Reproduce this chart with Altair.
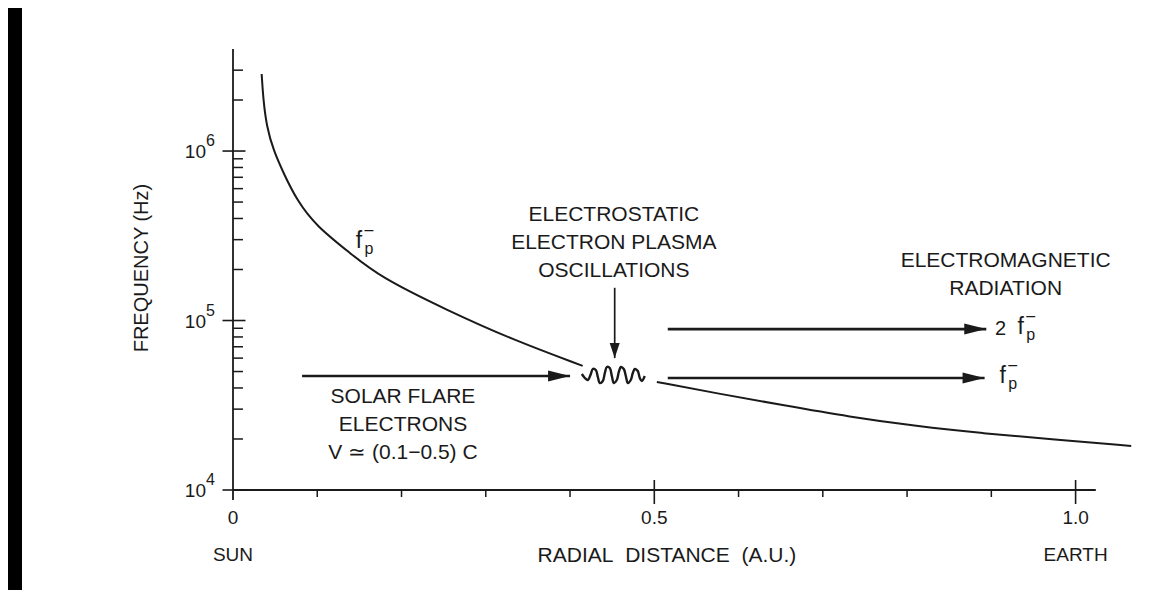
import altair as alt
import pandas as pd

FONT = "Liberation Sans"
INK = "#1a1a1a"

# ---------------- values ----------------
# plasma-frequency curve f_p^- : inner piece (Sun side) and outer piece (beyond the oscillations)
fp_inner_au = [0.034, 0.036, 0.040, 0.048, 0.060, 0.076, 0.099, 0.139, 0.174, 0.254, 0.332, 0.415]
fp_inner_hz = [2.85e6, 2.0e6, 1.39e6, 1.01e6, 7.4e5, 5.1e5, 3.6e5, 2.5e5, 1.81e5, 1.15e5, 7.7e4, 5.4e4]
fp_outer_au = [0.503, 0.574, 0.652, 0.732, 0.811, 0.890, 0.969, 1.066]
fp_outer_hz = [4.34e4, 3.72e4, 3.17e4, 2.70e4, 2.38e4, 2.16e4, 2.0e4, 1.82e4]

# the oscillation squiggle
wave_au = [0.4140, 0.4176, 0.4211, 0.4247, 0.4270, 0.4306, 0.4330, 0.4353, 0.4389,
           0.4413, 0.4437, 0.4472, 0.4496, 0.4520, 0.4555, 0.4579, 0.4603, 0.4638,
           0.4662, 0.4686, 0.4721, 0.4745, 0.4769, 0.4804, 0.4828, 0.4852, 0.4887]
wave_hz = [48350, 45800, 44570, 48350, 51750, 51050, 46420, 42790, 43970,
           49000, 53170, 52450, 47060, 42790, 44570, 49700, 53170, 51750,
           47060, 42790, 44570, 49000, 51750, 50370, 45800, 43970, 47060]

# horizontal arrows: solar-flare electrons, 2 f_p^- and f_p^- radiation
flow_start_au = [0.082, 0.516, 0.516]
flow_tip_au = [0.400, 0.894, 0.892]
flow_hz = [4.71e4, 8.9e4, 4.58e4]
# vertical arrow pointing at the oscillations
drop_au = [0.453]
drop_from_hz = [1.56e5]
drop_tip_hz = [6.0e4]

# axes
x_axis_end_au = [1.024]
y_axis_top_hz = [4e6]
x_label_values = [0.0, 0.5, 1.0]
x_label_text = ["0", "0.5", "1.0"]
x_major = [0.5, 1.0]
x_origin = [0.0]
x_minor = [0.1, 0.2, 0.3, 0.4, 0.6, 0.7, 0.8, 0.9]
y_major = [1e4, 1e5, 1e6]
y_exponent = ["4", "5", "6"]
y_minor = [2e4, 3e4, 4e4, 5e4, 6e4, 7e4, 8e4, 9e4,
           2e5, 3e5, 4e5, 5e5, 6e5, 7e5, 8e5, 9e5,
           2e6, 3e6]
place_names = ["SUN", "EARTH"]
place_au = [0.0, 1.0]
x_title = "RADIAL\u00a0 DISTANCE\u00a0 (A.U.)"
x_title_au = [0.515]
y_title = "FREQUENCY (Hz)"
y_title_hz = [2.04e5]

# annotations (anchored at their first line)
note_text = ["ELECTROSTATIC\nELECTRON PLASMA\nOSCILLATIONS",
             "ELECTROMAGNETIC\nRADIATION",
             "SOLAR FLARE\nELECTRONS\nV \u2243 (0.1\u22120.5) C"]
note_au = [0.452, 0.917, 0.2017]
note_hz = [4.19e5, 2.244e5, 3.54e4]
fp_prefix = ["", "2", ""]
fp_label_au = [0.1495, 0.9348, 0.9134]
fp_label_hz = [2.95e5, 9.16e4, 4.71e4]

# ---------------- chart ----------------
X_DOMAIN = [0, 1.08]
Y_DOMAIN = [1e4, 4e6]
W, H = 910, 441

xs = alt.Scale(domain=X_DOMAIN, nice=False, zero=False)
ys = alt.Scale(type="log", domain=Y_DOMAIN, nice=False)


def ex(f):
    return alt.X(f, type="quantitative", scale=xs, axis=None)


def ey(f):
    return alt.Y(f, type="quantitative", scale=ys, axis=None)


def txt(size, **kw):
    base = dict(font=FONT, fontSize=size, color=INK, align="center", baseline="middle")
    base.update(kw)
    return base


# left dark scan border
band = alt.Chart(pd.DataFrame({"k": [1]})).mark_rect(color="#000000").encode(
    x=alt.value(-225), x2=alt.value(-211), y=alt.value(-41), y2=alt.value(541)
)

# axis lines
xaxis = alt.Chart(pd.DataFrame({"x": [0.0], "x2": x_axis_end_au, "y": [Y_DOMAIN[0]]})).mark_rule(
    color=INK, strokeWidth=1.8
).encode(x=ex("x"), x2=alt.X2("x2"), y=ey("y"))
yaxis = alt.Chart(pd.DataFrame({"x": [0.0], "y": [Y_DOMAIN[0]], "y2": y_axis_top_hz})).mark_rule(
    color=INK, strokeWidth=1.8
).encode(x=ex("x"), y=ey("y"), y2=alt.Y2("y2"))

# ticks
xminor = alt.Chart(pd.DataFrame({"x": x_minor, "y": Y_DOMAIN[0]})).mark_tick(
    orient="vertical", size=7, thickness=1.5, yOffset=3.5, color=INK, opacity=1
).encode(x=ex("x"), y=ey("y"))
xmajor = alt.Chart(pd.DataFrame({"x": x_major, "y": Y_DOMAIN[0]})).mark_tick(
    orient="vertical", size=24, thickness=1.6, yOffset=2, color=INK, opacity=1
).encode(x=ex("x"), y=ey("y"))
xorigin = alt.Chart(pd.DataFrame({"x": x_origin, "y": Y_DOMAIN[0]})).mark_tick(
    orient="vertical", size=10, thickness=1.8, yOffset=5, color=INK, opacity=1
).encode(x=ex("x"), y=ey("y"))
yminor = alt.Chart(pd.DataFrame({"x": 0.0, "y": y_minor})).mark_tick(
    orient="horizontal", size=10, thickness=1.5, xOffset=5, color=INK, opacity=1
).encode(x=ex("x"), y=ey("y"))
ymajor = alt.Chart(pd.DataFrame({"x": 0.0, "y": y_major})).mark_tick(
    orient="horizontal", size=23, thickness=1.6, xOffset=1, color=INK, opacity=1
).encode(x=ex("x"), y=ey("y"))

# tick labels and titles
xlab = alt.Chart(pd.DataFrame({"x": x_label_values, "y": Y_DOMAIN[0], "t": x_label_text})).mark_text(
    **txt(19, dy=28)
).encode(x=ex("x"), y=ey("y"), text="t:N")
places = alt.Chart(pd.DataFrame({"x": place_au, "y": Y_DOMAIN[0], "t": place_names})).mark_text(
    **txt(19, dy=65)
).encode(x=ex("x"), y=ey("y"), text="t:N")
xtitle = alt.Chart(pd.DataFrame({"x": x_title_au, "y": Y_DOMAIN[0], "t": [x_title]})).mark_text(
    **txt(21, dy=66)
).encode(x=ex("x"), y=ey("y"), text="t:N")
# rotated text: dy (in the rotated frame) moves it left on screen
ytitle = alt.Chart(pd.DataFrame({"x": [0.0], "y": y_title_hz, "t": [y_title]})).mark_text(
    **txt(20, angle=270, dy=-91)
).encode(x=ex("x"), y=ey("y"), text="t:N")

ylab_df = pd.DataFrame({"x": 0.0, "y": y_major, "base": "10", "exp": y_exponent})
ylab_base = alt.Chart(ylab_df).mark_text(
    **txt(19, align="right", dx=-27, dy=1)
).encode(x=ex("x"), y=ey("y"), text="base:N")
ylab_exp = alt.Chart(ylab_df).mark_text(
    **txt(16, align="left", dx=-27, dy=-10)
).encode(x=ex("x"), y=ey("y"), text="exp:N")

# curve
curve_df = pd.concat([
    pd.DataFrame({"x": fp_inner_au, "y": fp_inner_hz, "seg": "inner"}),
    pd.DataFrame({"x": fp_outer_au, "y": fp_outer_hz, "seg": "outer"}),
])
curve = alt.Chart(curve_df).mark_line(color=INK, strokeWidth=2, interpolate="basis").encode(
    x=ex("x"), y=ey("y"), detail="seg:N"
)

wave = alt.Chart(pd.DataFrame({"x": wave_au, "y": wave_hz})).mark_line(
    color=INK, strokeWidth=2.4, interpolate="catmull-rom"
).encode(x=ex("x"), y=ey("y"))

# arrows
flow_df = pd.DataFrame({"x": flow_start_au, "x2": flow_tip_au, "y": flow_hz})
flow_shaft = alt.Chart(flow_df).mark_rule(color=INK, strokeWidth=2.6).encode(
    x=ex("x"), x2=alt.X2("x2"), y=ey("y")
)
flow_head = alt.Chart(flow_df).mark_point(
    shape="M-1,-0.5L1,0L-1,0.5Z", size=484, filled=True, color=INK, opacity=1,
    strokeWidth=0, xOffset=-11
).encode(x=ex("x2"), y=ey("y"))

drop_df = pd.DataFrame({"x": drop_au, "y": drop_from_hz, "y2": drop_tip_hz})
drop_shaft = alt.Chart(drop_df).mark_rule(color=INK, strokeWidth=1.7).encode(
    x=ex("x"), y=ey("y"), y2=alt.Y2("y2")
)
drop_head = alt.Chart(drop_df).mark_point(
    shape="M-0.67,-1L0,1L0.67,-1Z", size=225, filled=True, color=INK, opacity=1,
    strokeWidth=0, yOffset=-7.5
).encode(x=ex("x"), y=ey("y2"))

# annotation blocks
note_df = pd.DataFrame({"x": note_au, "y": note_hz, "t": note_text})
notes = alt.Chart(note_df).mark_text(
    **txt(21, lineBreak="\n", lineHeight=28)
).encode(x=ex("x"), y=ey("y"), text="t:N")

# f_p^- labels
fp_df = pd.DataFrame({"x": fp_label_au, "y": fp_label_hz, "pre": fp_prefix})
fp_f = alt.Chart(fp_df).mark_text(text="f", **txt(23)).encode(x=ex("x"), y=ey("y"))
fp_p = alt.Chart(fp_df).mark_text(text="p", **txt(16, dx=10, dy=8)).encode(x=ex("x"), y=ey("y"))
fp_bar = alt.Chart(fp_df).mark_text(text="\u2013", **txt(16, dx=10, dy=-11)).encode(x=ex("x"), y=ey("y"))
fp_pre = alt.Chart(fp_df).mark_text(**txt(20, dx=-20, dy=2)).encode(x=ex("x"), y=ey("y"), text="pre:N")

chart = alt.layer(
    band, xaxis, yaxis, xminor, xmajor, xorigin, yminor, ymajor,
    xlab, places, xtitle, ytitle, ylab_base, ylab_exp, curve, wave,
    flow_shaft, flow_head, drop_shaft, drop_head, notes, fp_f, fp_p, fp_bar, fp_pre,
).properties(
    width=W, height=H,
    padding={"left": 225, "top": 41, "right": 3, "bottom": 100},
    autosize=alt.AutoSizeParams(type="none"),
    background="white",
).configure(font=FONT).configure_view(stroke=None)

chart.save("out.html", embed_options={"renderer": "svg", "actions": False})
